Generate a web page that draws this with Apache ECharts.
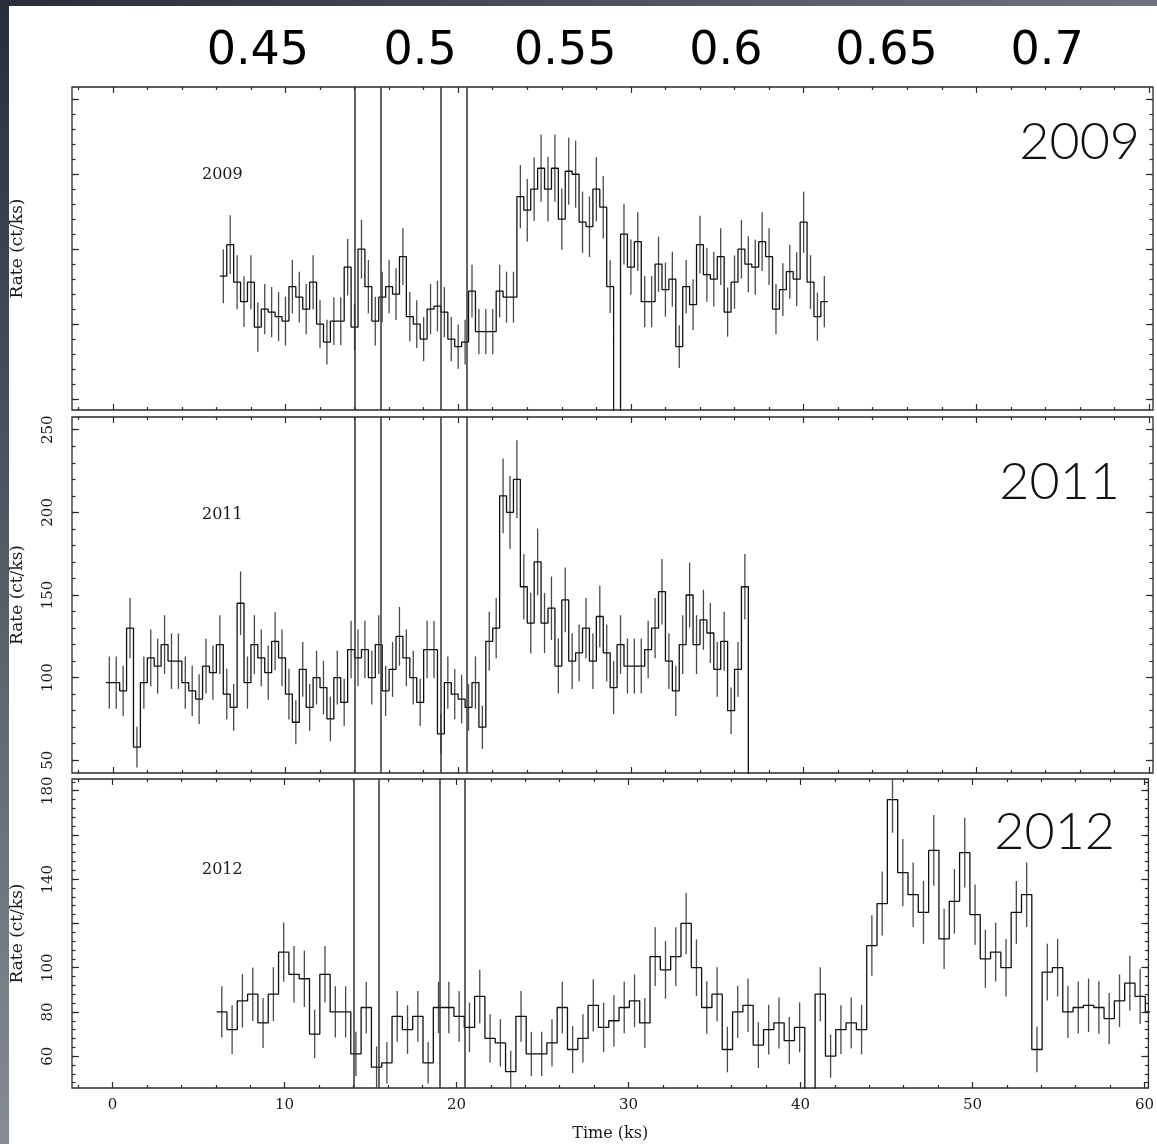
<!DOCTYPE html>
<html>
<head>
<meta charset="utf-8">
<script src="https://cdn.jsdelivr.net/npm/echarts@6/dist/echarts.min.js"></script>
<style>
html,body{margin:0;padding:0;background:#fff;}
#chart{width:1157px;height:1144px;}
</style>
</head>
<body>
<div id="chart"></div>
<script>
// ---------------- DATA ----------------
// 2009 light curve: 0.4 ks bins starting at 6.4 ks
const start2009 = 6.4, bin2009 = 0.4;
const rate2009 = [182,203,178,165,178,148,160,158,155,152,
  175,168,160,178,150,138,152,152,188,148,
  200,175,152,168,175,170,195,155,150,140,
  160,162,158,140,135,138,172,145,145,145,
  172,168,168,235,226,240,254,240,254,220,
  252,250,218,215,240,228,175,0,210,188,
  205,165,165,190,173,180,135,175,163,203,
  183,180,195,158,178,200,190,188,205,195,
  160,173,185,180,218,178,155,165];
const err2009 = [18,19.6,18,17,18,16.4,16.7,16.7,16.4,16.3,
  17.8,17,16.7,18,16,14.9,16,16,18.9,15.6,
  19.6,17.8,16.3,17,17.8,17.3,18.9,16.4,16,14.7,
  16.7,16.9,16.7,14.7,14.7,14.9,17.6,15.1,15.1,15.1,
  17.6,17,17,21.1,20.9,21.1,22.4,21.6,22.4,20.4,
  22.4,22.4,20.4,20.2,21.3,20.9,17.6,0,20.2,18.4,
  19.6,17.1,17.1,18.4,18,18.2,14.2,17.8,16.9,19.3,
  18,18.2,18.9,16.4,17.8,19.6,18.7,18.4,19.6,18.9,
  16.7,17.6,18,18,20.4,18,16,17.1];

// 2011 light curve: 0.4 ks bins starting at -0.2 ks
const start2011 = -0.2, bin2011 = 0.4;
const rate2011 = [97,97,92,130,58,97,112,107,120,110,
  110,97,92,87,107,103,120,90,82,145,
  97,120,112,103,122,112,90,73,105,82,
  100,94,75,100,85,117,112,117,100,120,
  92,105,125,112,100,85,117,117,66,97,
  90,87,82,97,70,122,130,210,200,220,
  155,133,170,133,142,107,147,110,115,130,
  110,137,115,94,120,107,107,107,117,130,
  152,110,92,120,150,120,135,127,105,122,
  80,105,155,0];
const err2011 = [15.8,15.8,15.2,18.2,12.3,15.8,17.2,16.6,17.8,16.8,
  16.8,15.8,15.2,15,16.6,16.4,17.8,15.4,14.1,19.2,
  15.8,17.8,17.2,16.4,17.6,17.2,15.4,13.3,16.6,14.1,
  16.2,16.2,13.5,16.2,14.3,17.4,17.2,17.4,16.2,17.8,
  15.2,16.6,17.8,17.2,16.2,14.3,17.4,17.4,12.1,15.8,
  15.2,14.7,14.1,15.8,13.1,17.8,18.2,22.6,22,23.6,
  19.8,18.4,20.2,18.2,19.2,16.6,19.6,16.8,17.2,18.2,
  16.8,18.6,17.2,16,17.8,16.6,16.6,16.6,17.4,18.2,
  19.8,16.8,15.2,17.8,19.6,17.8,18.2,18.2,16.6,17.8,
  14.1,16.6,19.8,0];

// 2012 light curve: 0.6 ks bins starting at 6.35 ks
const start2012 = 6.35, bin2012 = 0.6;
const rate2012 = [80,72,85,88,75,88,107,97,95,70,
  97,80,80,61,82,55,57,78,72,78,
  57,82,82,78,73,87,68,66,53,78,
  61,61,66,82,63,68,83,73,76,82,
  85,75,105,99,105,120,100,82,88,63,
  80,83,65,72,75,67,73,0,88,60,
  72,75,72,110,129,176,143,133,125,153,
  113,130,152,124,104,107,100,125,133,63,
  98,100,80,82,83,82,77,85,93,87,
  80];
const err2012 = [11.6,11,12.1,12.1,11.3,12.2,13.4,12.8,12.8,11,
  12.8,11.6,11.6,10,11.6,9.4,9.4,11.5,11,11.5,
  9.4,11.6,11.6,11.5,11.2,12.1,10.9,10.7,9.4,11.5,
  10,10,10.7,11.6,10.6,10.9,11.8,11.2,11.6,11.6,
  11.9,11.3,13.3,13,13.3,13.9,12.8,11.9,12.2,10.3,
  11.8,12.1,10.4,11.2,11.5,10.7,11.3,0,12.2,9.8,
  11,11.5,11.2,13.7,14.5,15,15.2,14.6,14.2,16,
  13.6,14.6,15.8,13.6,13.1,13.3,13,14.2,14.6,10.3,
  12.8,13,11.8,11.8,12.1,11.9,11.6,11.9,12.4,12.5,
  11.8];

// vertical marker times (ks)
const markerTimes = [14.0, 15.5, 19.0, 20.5];

// phase labels along the top and their time positions (ks)
const phaseLabels = ['0.45','0.5','0.55','0.6','0.65','0.7'];
const phaseTimes = [8.4, 17.8, 26.2, 35.5, 44.8, 54.1];

// axis ticks
const timeMajor = [0,10,20,30,40,50,60];
const timeLabels = [0,10,20,30,40,50,60];
const yMajor2009 = [100,150,200,250,300];
const yMajor2011 = [50,100,150,200,250];
const yLabels2011 = [50,100,150,200,250];
const yMajor2012 = [60,80,100,120,140,160,180];
const yLabels2012 = [60,80,100,140,180];
const yearLabels = ['2009','2011','2012'];

// ---------------- BUILD ----------------
const xMin = -2.36, xMax = 60.23;
function range(a, b, s){ const r=[]; for(let v=a; v<=b+1e-9; v+=s) r.push(+v.toFixed(4)); return r; }
const timeMinor = range(-2, 60, 2).filter(t => t % 10 !== 0);

const panels = [
  {start:start2009, bin:bin2009, rate:rate2009, err:err2009, top:87, height:323,
   yMin:92.7, yMax:308.2, yMajor:yMajor2009, yMinor:range(100,300,10), yLabels:null, xLabels:false},
  {start:start2011, bin:bin2011, rate:rate2011, err:err2011, top:417, height:356,
   yMin:42.3, yMax:257.7, yMajor:yMajor2011, yMinor:range(50,250,10), yLabels:yLabels2011, xLabels:false},
  {start:start2012, bin:bin2012, rate:rate2012, err:err2012, top:779, height:309,
   yMin:45.6, yMax:185.3, yMajor:yMajor2012, yMinor:range(48,184,4), yLabels:yLabels2012, xLabels:true}
];

const serif = 'DejaVu Serif';
const tickColor = '#2a2a2a';
const grids = [], xAxes = [], yAxes = [], series = [];

panels.forEach((p, gi) => {
  grids.push({left:72, top:p.top, width:1081, height:p.height, show:true,
    borderColor:'#2a2a2a', borderWidth:1.3, backgroundColor:'transparent', containLabel:false});
  const xa = (pos, vals, len, labels) => ({
    type:'value', gridIndex:gi, position:pos, min:xMin, max:xMax,
    axisLine:{show:false, onZero:false}, splitLine:{show:false},
    axisTick:{show:true, inside:true, length:len, customValues:vals, lineStyle:{color:tickColor, width:1.2}},
    axisLabel:{show:!!labels, customValues:labels || vals, margin:10, fontFamily:serif, fontSize:15, color:'#1a1a1a'},
    name: (labels && pos==='bottom') ? 'Time (ks)' : '',
    nameLocation:'middle', nameGap:38,
    nameTextStyle:{fontFamily:serif, fontSize:16, color:'#1a1a1a'}
  });
  xAxes.push(xa('bottom', timeMajor, 6, p.xLabels ? timeLabels : null));
  xAxes.push(xa('bottom', timeMinor, 3, null));
  xAxes.push(xa('top', timeMajor, 6, null));
  xAxes.push(xa('top', timeMinor, 3, null));
  const ya = (pos, vals, len, labels, named) => ({
    type:'value', gridIndex:gi, position:pos, min:p.yMin, max:p.yMax,
    axisLine:{show:false, onZero:false}, splitLine:{show:false},
    axisTick:{show:true, inside:true, length:len, customValues:vals, lineStyle:{color:tickColor, width:1.2}},
    axisLabel:{show:!!labels, customValues:labels || vals, rotate:90, margin:16, fontFamily:serif, fontSize:15, color:'#1a1a1a'},
    name: named ? 'Rate (ct/ks)' : '', nameLocation:'middle', nameRotate:90, nameGap:46,
    nameTextStyle:{fontFamily:serif, fontSize:17, color:'#1a1a1a'}
  });
  yAxes.push(ya('left', p.yMajor, 7, p.yLabels, true));
  yAxes.push(ya('left', p.yMinor, 3.5, null, false));
  yAxes.push(ya('right', p.yMajor, 7, null, false));
  yAxes.push(ya('right', p.yMinor, 3.5, null, false));

  // histogram step line from bin edges
  const pts = p.rate.map((v, i) => [p.start + i * p.bin - p.bin / 2, v]);
  pts.push([p.start + (p.rate.length - 1) * p.bin + p.bin / 2, p.rate[p.rate.length - 1]]);
  series.push({
    type:'line', xAxisIndex:gi*4, yAxisIndex:gi*4, step:'end', data:pts,
    symbol:'none', showSymbol:false, clip:true, silent:true,
    lineStyle:{color:'#111', width:1.3}, z:3,
    markLine:{silent:true, symbol:'none', label:{show:false}, animation:false,
      lineStyle:{color:'#333', width:1.5, type:'solid'},
      data: markerTimes.map(t => ({xAxis:t}))}
  });
  // error bars
  series.push({
    type:'custom', xAxisIndex:gi*4, yAxisIndex:gi*4, clip:true, silent:true, z:2,
    data: p.rate.map((v, i) => [p.start + i * p.bin, v - p.err[i], v + p.err[i]]),
    encode:{x:0, y:[1,2]},
    renderItem: (params, api) => {
      const a = api.coord([api.value(0), api.value(1)]);
      const b = api.coord([api.value(0), api.value(2)]);
      return {type:'line', shape:{x1:a[0], y1:a[1], x2:b[0], y2:b[1]},
        style:{stroke:'#4a4a4a', lineWidth:1.3}};
    }
  });
});

// phase labels: an extra top axis on the first panel
xAxes.push({
  type:'value', gridIndex:0, position:'top', min:xMin, max:xMax,
  axisLine:{show:false, onZero:false}, axisTick:{show:false}, splitLine:{show:false},
  axisLabel:{show:true, customValues:phaseTimes, margin:12,
    formatter: v => phaseLabels[phaseTimes.findIndex(t => Math.abs(t - v) < 1e-6)],
    fontFamily:'DejaVu Sans', fontSize:46, color:'#000'}
});

const bigStyle = {fontFamily:'Lato', fontWeight:300, fontSize:52, color:'#111'};
const smallStyle = {fontFamily:serif, fontWeight:'normal', fontSize:16, color:'#1a1a1a'};
const titles = [
  {text:yearLabels[0], right:17, top:116, padding:0, textStyle:bigStyle},
  {text:yearLabels[1], right:37, top:456, padding:0, textStyle:bigStyle},
  {text:yearLabels[2], right:42, top:806, padding:0, textStyle:bigStyle},
  {text:yearLabels[0], left:202, top:167, padding:0, textStyle:smallStyle},
  {text:yearLabels[1], left:202, top:507, padding:0, textStyle:smallStyle},
  {text:yearLabels[2], left:202, top:862, padding:0, textStyle:smallStyle}
];

const chart = echarts.init(document.getElementById('chart'), null, {renderer:'canvas'});
chart.setOption({
  animation:false,
  backgroundColor:'#ffffff',
  title: titles,
  grid: grids,
  xAxis: xAxes,
  yAxis: yAxes,
  series: series,
  graphic: [
    {type:'rect', left:0, top:0, shape:{width:1157, height:6}, silent:true, z:100,
      style:{fill:new echarts.graphic.LinearGradient(0,0,1,0,[{offset:0,color:'#272d3a'},{offset:1,color:'#6e7380'}])}},
    {type:'rect', left:0, top:0, shape:{width:9, height:1144}, silent:true, z:100,
      style:{fill:new echarts.graphic.LinearGradient(0,0,0,1,[{offset:0,color:'#272d3a'},{offset:1,color:'#858a93'}])}}
  ]
});
</script>
</body>
</html>
